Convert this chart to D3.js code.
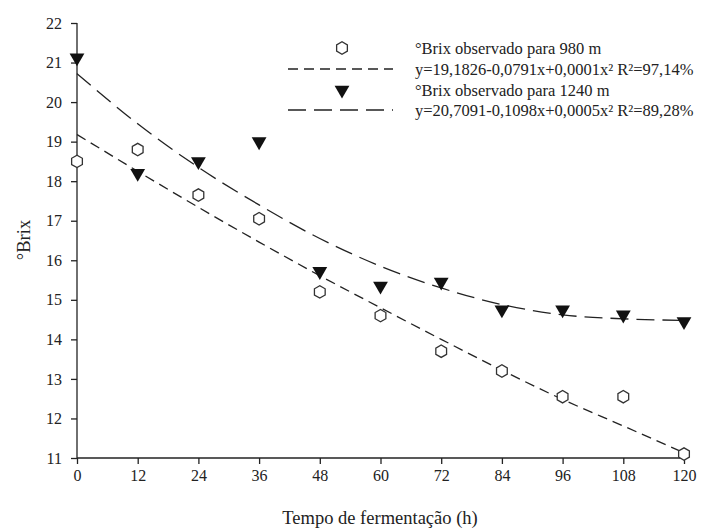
<!DOCTYPE html>
<html>
<head>
<meta charset="utf-8">
<script src="https://d3js.org/d3.v7.min.js"></script>
<style>
  body { margin: 0; background: #fff; }
  text { font-family: "Liberation Serif", "Times New Roman", serif; fill: #222; }
</style>
</head>
<body>
<svg width="703" height="532"></svg>
<script>
// observed values
var hours = [0, 12, 24, 36, 48, 60, 72, 84, 96, 108, 120];
var brix980 = [18.5, 18.8, 17.65, 17.05, 15.2, 14.6, 13.7, 13.2, 12.55, 12.55, 11.1];
var brix1240 = [21.12, 18.2, 18.5, 19.0, 15.72, 15.35, 15.45, 14.75, 14.75, 14.62, 14.45];
// fitted curves
var fit980 = [19.18, 18.25, 17.34, 16.46, 15.61, 14.8, 14.0, 13.22, 12.48, 11.81, 11.13];
var fit1240 = [20.72, 19.45, 18.35, 17.4, 16.55, 15.85, 15.3, 14.88, 14.62, 14.52, 14.48];
var yTicks = [11, 12, 13, 14, 15, 16, 17, 18, 19, 20, 21, 22];
var legendLabels = [
  "°Brix observado para 980 m",
  "y=19,1826-0,0791x+0,0001x² R²=97,14%",
  "°Brix observado para 1240 m",
  "y=20,7091-0,1098x+0,0005x² R²=89,28%"
];

var svg = d3.select("svg");
var x = d3.scaleLinear().domain([0, 120]).range([77, 684]);
var y = d3.scaleLinear().domain([11, 22]).range([458, 23]);

var xAxis = svg.append("g").attr("transform", "translate(0,458)")
  .call(d3.axisBottom(x).tickValues(hours).tickSize(6).tickPadding(6));
var yAxis = svg.append("g").attr("transform", "translate(77,0)")
  .call(d3.axisLeft(y).tickValues(yTicks).tickSize(6).tickPadding(9));
[xAxis, yAxis].forEach(function (g) {
  g.selectAll("path.domain").attr("stroke", "#222").attr("stroke-width", 1.3);
  g.selectAll("line").attr("stroke", "#222").attr("stroke-width", 1.3);
  g.selectAll("text").style("font-size", "16px").attr("fill", "#333");
});
// plain domain lines without the outer ticks
xAxis.select("path.domain").attr("d", "M" + x(0) + ",0H" + x(120));
yAxis.select("path.domain").attr("d", "M0," + y(22) + "V" + y(11));

var line = d3.line().x(function (d, i) { return x(hours[i]); })
  .y(function (d) { return y(d); }).curve(d3.curveMonotoneX);

svg.append("path").attr("d", line(fit980)).attr("fill", "none")
  .attr("stroke", "#222").attr("stroke-width", 1.3).attr("stroke-dasharray", "10,6");
svg.append("path").attr("d", line(fit1240)).attr("fill", "none")
  .attr("stroke", "#222").attr("stroke-width", 1.3).attr("stroke-dasharray", "18,8");

var hex = d3.symbol().type({
  draw: function (ctx, size) {
    var r = Math.sqrt(size / 2.6);
    for (var k = 0; k < 6; k++) {
      var a = Math.PI / 6 + k * Math.PI / 3;
      if (k === 0) ctx.moveTo(r * Math.cos(a), r * Math.sin(a));
      else ctx.lineTo(r * Math.cos(a), r * Math.sin(a));
    }
    ctx.closePath();
  }
}).size(100);
var tri = d3.symbol().type(d3.symbolTriangle).size(95);

svg.append("g").selectAll("path").data(brix980).join("path")
  .attr("d", hex)
  .attr("transform", function (d, i) { return "translate(" + x(hours[i]) + "," + y(d) + ")"; })
  .attr("fill", "#fff").attr("stroke", "#333").attr("stroke-width", 1.3);

svg.append("g").selectAll("path").data(brix1240).join("path")
  .attr("d", tri)
  .attr("transform", function (d, i) { return "translate(" + x(hours[i]) + "," + y(d) + ") rotate(180)"; })
  .attr("fill", "#111");

// legend
var leg = svg.append("g");
var rows = [48, 69, 90, 110];
leg.append("path").attr("d", hex).attr("transform", "translate(342," + rows[0] + ")")
  .attr("fill", "#fff").attr("stroke", "#333").attr("stroke-width", 1.3);
leg.append("line").attr("x1", 288).attr("x2", 393).attr("y1", rows[1]).attr("y2", rows[1])
  .attr("stroke", "#222").attr("stroke-width", 1.3).attr("stroke-dasharray", "10,6");
leg.append("path").attr("d", tri).attr("transform", "translate(342," + rows[2] + ") rotate(180)")
  .attr("fill", "#111");
leg.append("line").attr("x1", 288).attr("x2", 393).attr("y1", rows[3]).attr("y2", rows[3])
  .attr("stroke", "#222").attr("stroke-width", 1.3).attr("stroke-dasharray", "18,8");
leg.selectAll("text").data(legendLabels).join("text")
  .attr("x", 415).attr("y", function (d, i) { return rows[i]; })
  .attr("dy", "0.35em").style("font-size", "16.5px").text(function (d) { return d; });

svg.append("text").attr("x", 380).attr("y", 524).attr("text-anchor", "middle")
  .style("font-size", "18.5px").text("Tempo de fermentação (h)");
svg.append("text").attr("transform", "translate(30,240) rotate(-90)").attr("text-anchor", "middle")
  .style("font-size", "18.5px").text("°Brix");
</script>
</body>
</html>
